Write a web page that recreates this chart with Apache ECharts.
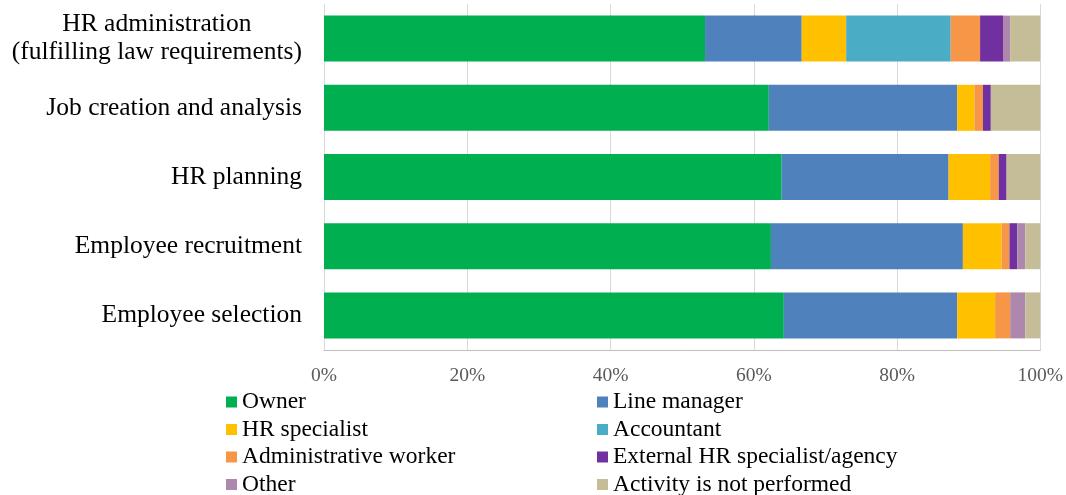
<!DOCTYPE html>
<html>
<head>
<meta charset="utf-8">
<title>HR activities</title>
<script src="https://cdn.jsdelivr.net/npm/echarts@6/dist/echarts.min.js"></script>
<style>
	html, body { margin: 0; padding: 0; background: #fff; }
	#chart { width: 1066px; height: 495px; }
</style>
</head>
<body>
<div id="chart"></div>
<script>
	// 类别（从上到下）
	var categories = ['HR administration\n(fulfilling law requirements)', 'Job creation and analysis', 'HR planning',
			'Employee recruitment', 'Employee selection'];

	// 各系列数值（%）
	var owner = [53.2, 62.1, 63.9, 62.4, 64.2];
	var lineManager = [13.5, 26.3, 23.3, 26.8, 24.2];
	var hrSpecialist = [6.2, 2.4, 5.8, 5.4, 5.3];
	var accountant = [14.6, 0, 0, 0, 0];
	var adminWorker = [4.1, 1.2, 1.2, 1.1, 2.1];
	var externalAgency = [3.2, 1.1, 1.1, 1.1, 0];
	var other = [1.0, 0, 0, 1.1, 2.1];
	var notPerformed = [4.2, 6.9, 4.7, 2.1, 2.1];

	var seriesNames = ['Owner', 'Line manager', 'HR specialist', 'Accountant', 'Administrative worker',
			'External HR specialist/agency', 'Other', 'Activity is not performed'];
	var seriesData = [owner, lineManager, hrSpecialist, accountant, adminWorker, externalAgency, other, notPerformed];
	var colors = ['#00B050', '#4F81BD', '#FFC000', '#4BACC6', '#F79646', '#7030A0', '#AE88AC', '#C4BD97'];

	var font = '"Liberation Serif", "Times New Roman", serif';

	var series = [];
	for (var i = 0; i < seriesNames.length; i++) {
		series.push({
			name : seriesNames[i],
			type : 'bar',
			stack : 'total',
			barWidth : 46,
			itemStyle : {
				color : colors[i]
			},
			emphasis : {
				disabled : true
			},
			data : seriesData[i]
		});
	}

	// 图例：两列，每列竖排
	function makeLegend(left, names) {
		return {
			orient : 'vertical',
			left : left,
			top : 385,
			height : 110,
			icon : 'rect',
			itemWidth : 11,
			itemHeight : 11,
			itemGap : 3.5,
			data : names,
			textStyle : {
				fontFamily : font,
				fontSize : 23.5,
				lineHeight : 24,
				color : '#000'
			}
		};
	}

	var option = {
		animation : false,
		color : colors,
		grid : {
			left : 324,
			right : 21,
			top : 4,
			bottom : 145
		},
		legend : [
			makeLegend(221, ['Owner', 'HR specialist', 'Administrative worker', 'Other']),
			makeLegend(592, ['Line manager', 'Accountant', 'External HR specialist/agency', 'Activity is not performed'])
		],
		xAxis : {
			type : 'value',
			min : 0,
			max : 100,
			interval : 20,
			axisLine : {
				show : true,
				lineStyle : {
					color : '#BFBFBF',
					width : 1
				}
			},
			axisTick : {
				show : false
			},
			splitLine : {
				lineStyle : {
					color : '#D9D9D9'
				}
			},
			axisLabel : {
				formatter : '{value}%',
				fontFamily : font,
				fontSize : 19.5,
				color : '#595959',
				margin : 16
			}
		},
		yAxis : {
			type : 'category',
			inverse : true,
			data : categories,
			axisLine : {
				lineStyle : {
					color : '#D9D9D9'
				}
			},
			axisTick : {
				show : false
			},
			axisLabel : {
				margin : 22,
				formatter : function(value) {
					return value.split('\n').map(function(s) {
						return '{a|' + s + '}';
					}).join('\n');
				},
				rich : {
					a : {
						fontFamily : font,
						fontSize : 25.5,
						lineHeight : 28,
						color : '#000',
						align : 'center'
					}
				}
			}
		},
		series : series
	};

	var myChart = echarts.init(document.getElementById('chart'));
	myChart.setOption(option);
</script>
</body>
</html>
